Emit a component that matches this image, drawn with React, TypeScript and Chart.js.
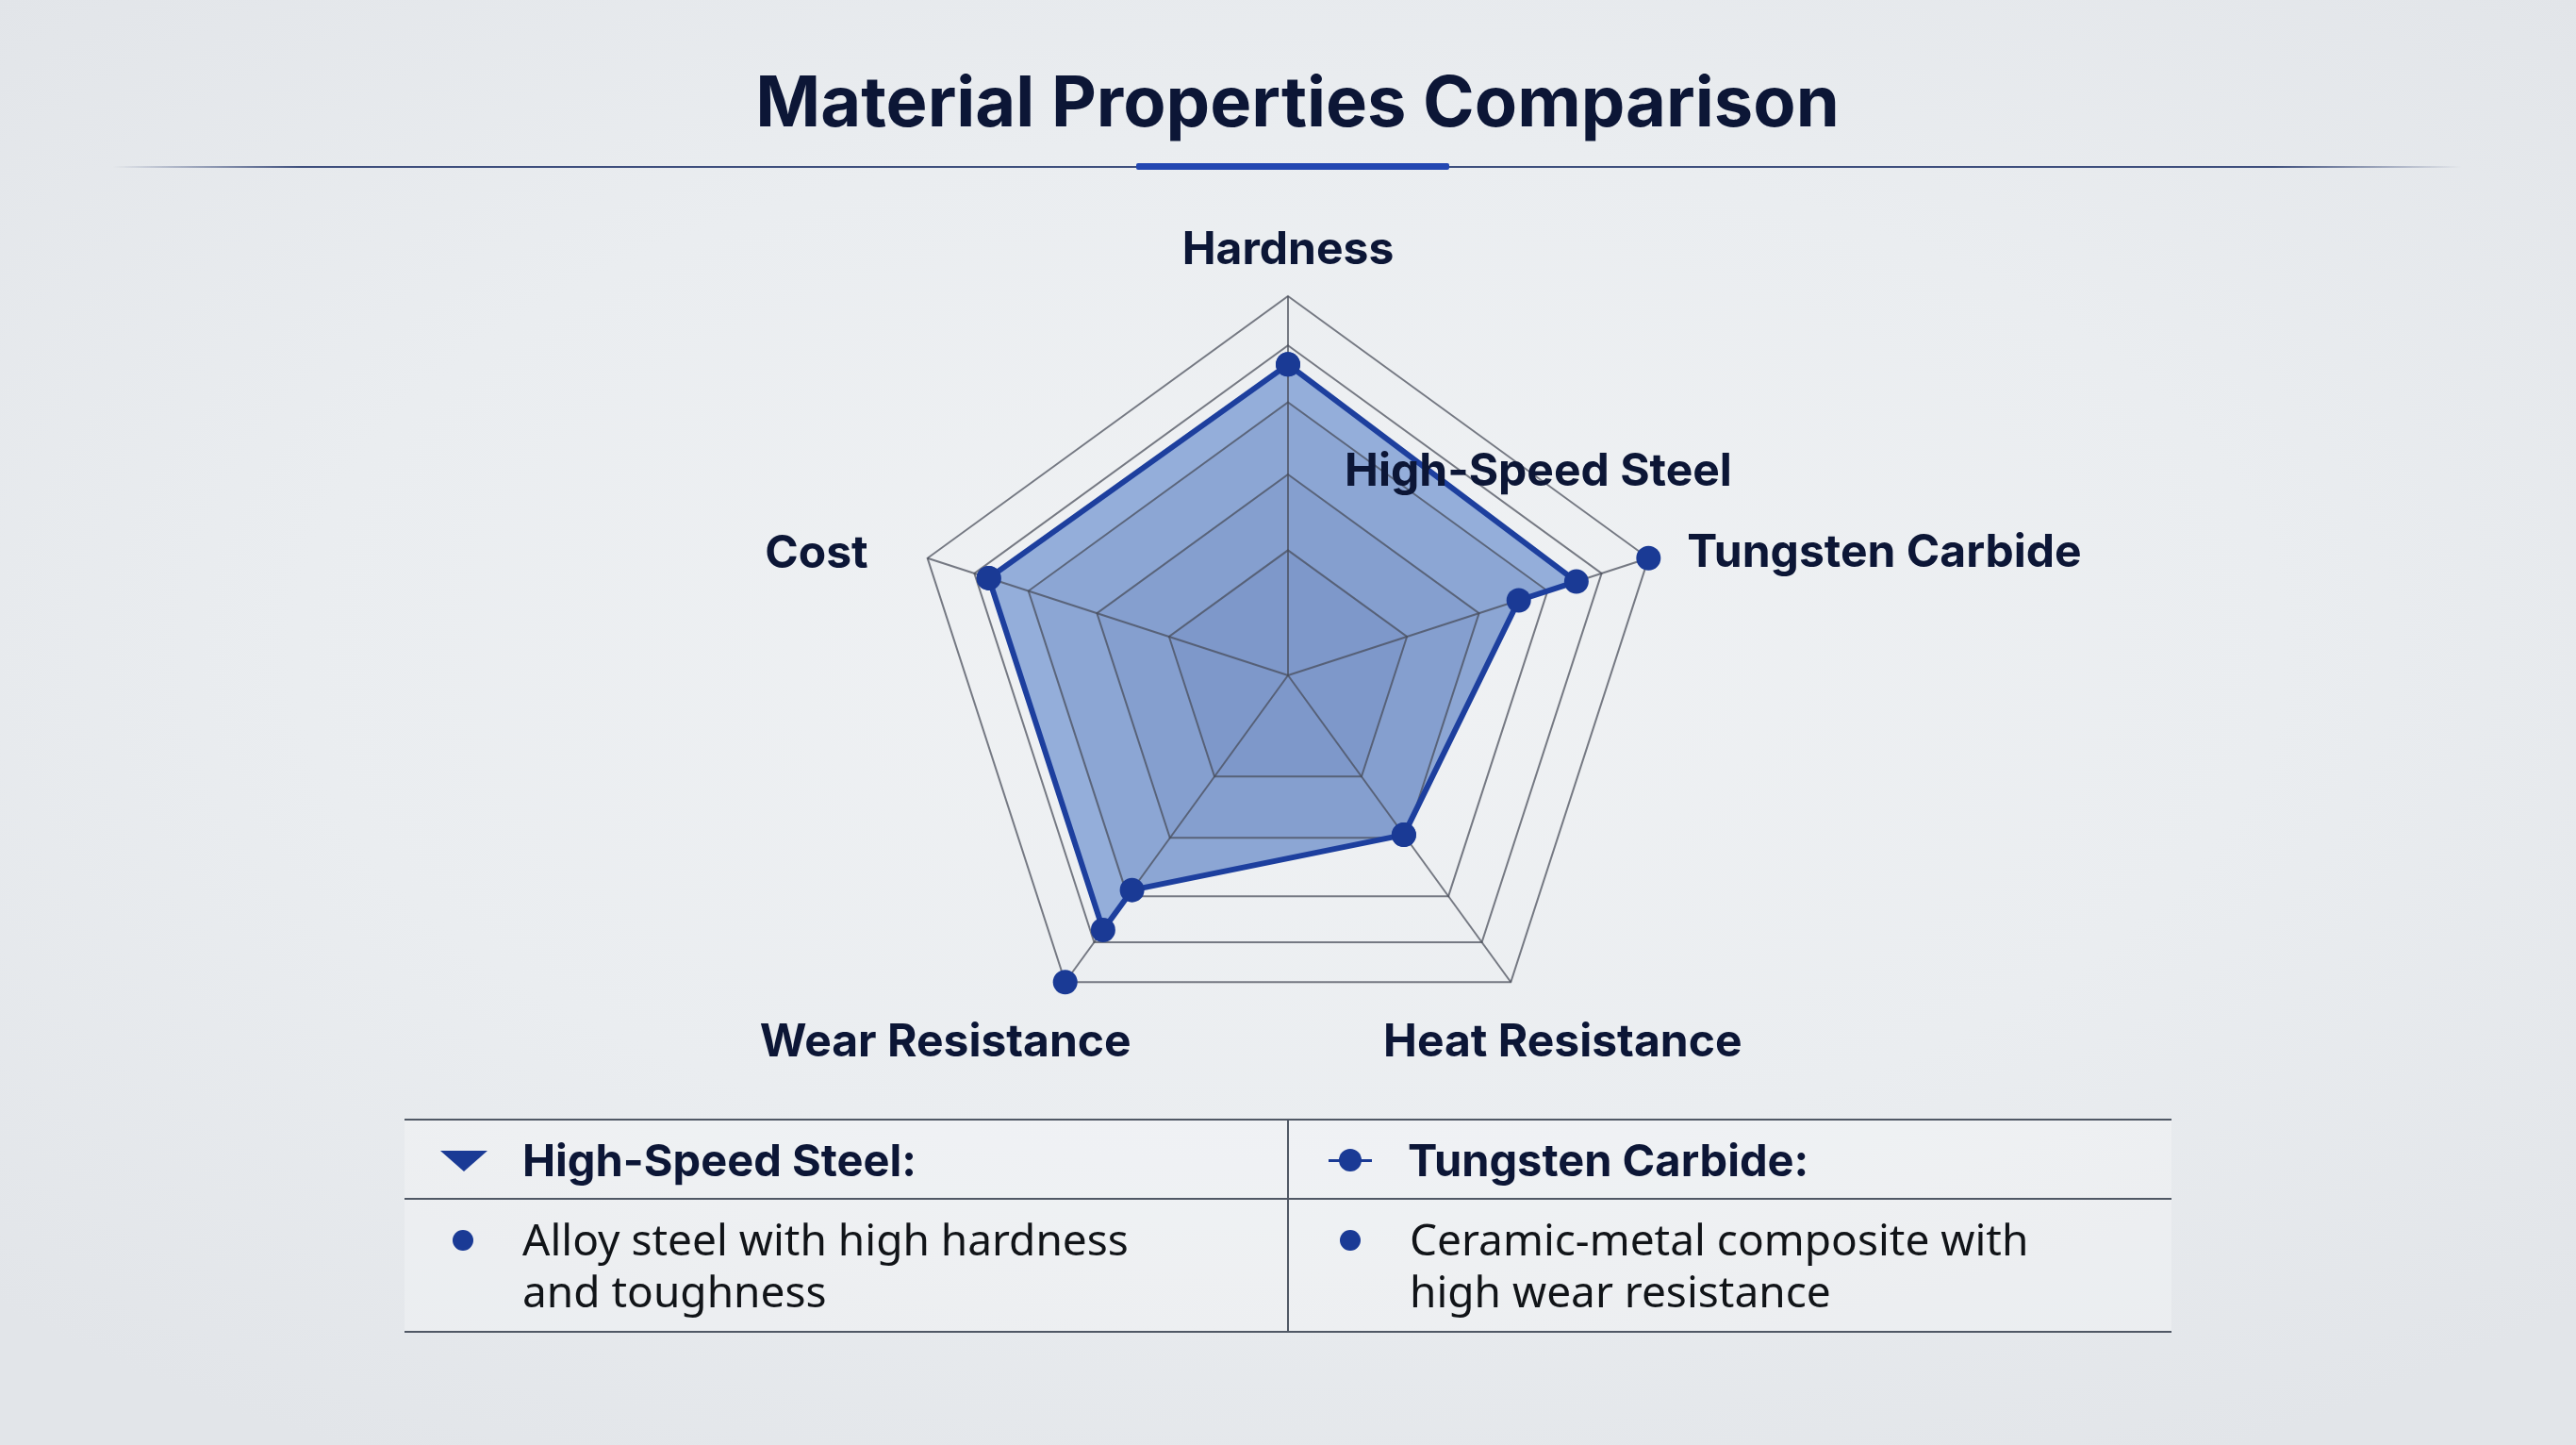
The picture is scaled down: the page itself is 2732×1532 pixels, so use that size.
import React, { useEffect, useRef } from 'react';
import { Chart, registerables } from 'chart.js';

Chart.register(...registerables);

// ---------- data ----------
const TITLE = 'Material Properties Comparison';
const AXES = ['Hardness', 'Tungsten Carbide', 'Heat Resistance', 'Wear Resistance', 'Cost'];
const HSS_VALUES = [82, 80, 52, 70, 83];
const TC_VALUES = [82, 64, 52, 83, 83];
const PEAK_VALUES: (number | null)[] = [null, 100, null, 100, null];
const GRID_TICKS = [0, 33, 53, 72, 87, 100];
const SERIES_NAMES = ['High-Speed Steel', 'Tungsten Carbide'];
const HSS_NOTE = ['Alloy steel with high hardness', 'and toughness'];
const TC_NOTE = ['Ceramic-metal composite with', 'high wear resistance'];

// ---------- styles ----------
const W = 2732;
const H = 1532;
const NAVY = '#0c1636';
const MARK = '#1a3a95';
const EDGE = '#1d3f9e';
const FILL_BASE = 'rgb(156,182,224)';
const FILL_LAYER = 'rgba(40,70,140,0.07)';
const GRID = 'rgba(70,75,88,0.72)';
const LABEL_FONT = '700 48px Inter';
// label placement relative to the axis end (value 100): [align, dx, dy(baseline)]
const LABEL_LAYOUT: [CanvasTextAlign, number, number][] = [
  ['center', 0, -34],
  ['left', 41, 9],
  ['center', 55, 79],
  ['center', -127, 79],
  ['right', -63, 10],
];
const SERIES_TAG_LAYOUT: [CanvasTextAlign, number, number] = ['right', 165, -102];

function outlinePoints(r: any) {
  const pts: { x: number; y: number }[] = [];
  AXES.forEach((_, i) => {
    pts.push(r.getPointPositionForValue(i, HSS_VALUES[i]));
    if (TC_VALUES[i] !== HSS_VALUES[i]) pts.push(r.getPointPositionForValue(i, TC_VALUES[i]));
  });
  return pts;
}

function trace(ctx: CanvasRenderingContext2D, pts: { x: number; y: number }[]) {
  ctx.beginPath();
  pts.forEach((p, i) => (i === 0 ? ctx.moveTo(p.x, p.y) : ctx.lineTo(p.x, p.y)));
  ctx.closePath();
}

const areaPlugin = {
  id: 'combinedArea',
  beforeDraw(chart: any) {
    const r = chart.scales.r;
    const ctx: CanvasRenderingContext2D = chart.ctx;
    const pts = outlinePoints(r);
    ctx.save();
    trace(ctx, pts);
    ctx.fillStyle = FILL_BASE;
    ctx.fill();
    ctx.clip();
    for (let k = GRID_TICKS.length - 2; k >= 1; k--) {
      const v = GRID_TICKS[k];
      ctx.beginPath();
      AXES.forEach((_, i) => {
        const p = r.getPointPositionForValue(i, v);
        if (i === 0) ctx.moveTo(p.x, p.y);
        else ctx.lineTo(p.x, p.y);
      });
      ctx.closePath();
      ctx.fillStyle = FILL_LAYER;
      ctx.fill();
    }
    ctx.restore();
  },
  beforeDatasetsDraw(chart: any) {
    const r = chart.scales.r;
    const ctx: CanvasRenderingContext2D = chart.ctx;
    ctx.save();
    trace(ctx, outlinePoints(r));
    ctx.strokeStyle = EDGE;
    ctx.lineWidth = 6;
    ctx.lineJoin = 'round';
    ctx.stroke();
    ctx.restore();
  },
  afterDraw(chart: any) {
    const r = chart.scales.r;
    const ctx: CanvasRenderingContext2D = chart.ctx;
    ctx.save();
    ctx.font = LABEL_FONT;
    ctx.fillStyle = NAVY;
    ctx.textBaseline = 'alphabetic';
    AXES.forEach((label, i) => {
      const p = r.getPointPositionForValue(i, 100);
      const [align, dx, dy] = LABEL_LAYOUT[i];
      ctx.textAlign = align;
      ctx.fillText(label, p.x + dx, p.y + dy);
    });
    const q = r.getPointPositionForValue(1, HSS_VALUES[1]);
    ctx.textAlign = SERIES_TAG_LAYOUT[0];
    ctx.fillText(SERIES_NAMES[0], q.x + SERIES_TAG_LAYOUT[1], q.y + SERIES_TAG_LAYOUT[2]);
    ctx.restore();
  },
};

function RadarCanvas() {
  const ref = useRef<HTMLCanvasElement | null>(null);
  useEffect(() => {
    if (!ref.current) return;
    const pointStyle = {
      showLine: false,
      fill: false,
      borderWidth: 0,
      backgroundColor: 'transparent',
      pointRadius: 13,
      pointHoverRadius: 13,
      pointBackgroundColor: MARK,
      pointBorderColor: MARK,
      pointBorderWidth: 0,
    };
    const chart = new Chart(ref.current, {
      type: 'radar',
      data: {
        labels: AXES,
        datasets: [
          { label: SERIES_NAMES[0], data: HSS_VALUES, ...pointStyle },
          { label: SERIES_NAMES[1], data: TC_VALUES, ...pointStyle },
          { label: 'Scale maximum', data: PEAK_VALUES as any, ...pointStyle },
        ],
      },
      options: {
        responsive: false,
        animation: false,
        devicePixelRatio: 1,
        layout: { padding: { left: 964, right: 964, top: 314, bottom: 414 } },
        plugins: { legend: { display: false }, tooltip: { enabled: false } },
        events: [],
        scales: {
          r: {
            min: 0,
            max: 100,
            afterBuildTicks: (scale: any) => {
              scale.ticks = GRID_TICKS.map((v) => ({ value: v }));
            },
            ticks: { display: false },
            pointLabels: { display: false },
            grid: { color: GRID, lineWidth: 2 },
            angleLines: { color: GRID, lineWidth: 2 },
          },
        },
      } as any,
      plugins: [areaPlugin],
    });
    return () => chart.destroy();
  }, []);
  return (
    <canvas
      ref={ref}
      width={W}
      height={H}
      style={{ position: 'absolute', left: 0, top: 0, width: W, height: H, display: 'block' }}
    />
  );
}

const abs = (s: React.CSSProperties): React.CSSProperties => ({ position: 'absolute', ...s });

export default function App() {
  const headFont: React.CSSProperties = {
    fontFamily: 'Inter, sans-serif',
    fontWeight: 700,
    fontSize: 47,
    lineHeight: '60px',
    color: NAVY,
    whiteSpace: 'nowrap',
  };
  const bodyFont: React.CSSProperties = {
    fontFamily: '"Noto Sans", sans-serif',
    fontWeight: 400,
    fontSize: 46,
    lineHeight: '55px',
    color: '#111418',
    whiteSpace: 'nowrap',
  };
  return (
    <div
      style={{
        position: 'relative',
        width: W,
        height: H,
        overflow: 'hidden',
        background:
          'radial-gradient(ellipse 70% 65% at 50% 45%, #f0f2f4 0%, #eaedf0 55%, #e2e5e9 100%)',
      }}
    >
      <style>{'body{margin:0;}'}</style>
      <RadarCanvas />
      {/* title */}
      <div
        style={abs({
          left: 376,
          top: 62,
          width: 2000,
          textAlign: 'center',
          fontFamily: 'Inter, sans-serif',
          fontWeight: 700,
          fontSize: 74,
          lineHeight: '90px',
          color: NAVY,
          whiteSpace: 'nowrap',
        })}
      >
        {TITLE}
      </div>
      <div
        style={abs({
          left: 120,
          top: 176,
          width: 2490,
          height: 2,
          background:
            'linear-gradient(to right, rgba(44,62,112,0), rgba(44,62,112,0.9) 8%, rgba(44,62,112,0.9) 92%, rgba(44,62,112,0))',
        })}
      />
      <div style={abs({ left: 1205, top: 173, width: 332, height: 7, background: '#2347b2', borderRadius: 2 })} />

      {/* table */}
      <div style={abs({ left: 429, top: 1186, width: 1874, height: 227, background: 'rgba(255,255,255,0.25)' })}>
        <div style={abs({ left: 0, top: 0, width: 1874, height: 2, background: '#505865' })} />
        <div style={abs({ left: 0, top: 84, width: 1874, height: 2, background: '#505865' })} />
        <div style={abs({ left: 0, top: 225, width: 1874, height: 2, background: '#505865' })} />
        <div style={abs({ left: 936, top: 0, width: 2, height: 227, background: '#505865' })} />

        {/* left header */}
        <div
          style={abs({
            left: 38,
            top: 34,
            width: 0,
            height: 0,
            borderLeft: '25px solid transparent',
            borderRight: '25px solid transparent',
            borderTop: `22px solid ${MARK}`,
          })}
        />
        <div style={abs({ left: 125, top: 14, ...headFont })}>{SERIES_NAMES[0]}:</div>
        {/* right header */}
        <div style={abs({ left: 980, top: 43, width: 46, height: 3, background: MARK })} />
        <div style={abs({ left: 991, top: 32, width: 24, height: 24, borderRadius: 12, background: MARK })} />
        <div style={abs({ left: 1064, top: 14, ...headFont })}>{SERIES_NAMES[1]}:</div>

        {/* bodies */}
        <div style={abs({ left: 51, top: 118, width: 22, height: 22, borderRadius: 11, background: MARK })} />
        <div style={abs({ left: 125, top: 100, ...bodyFont })}>
          {HSS_NOTE.map((t) => (
            <div key={t}>{t}</div>
          ))}
        </div>
        <div style={abs({ left: 992, top: 118, width: 22, height: 22, borderRadius: 11, background: MARK })} />
        <div style={abs({ left: 1066, top: 100, ...bodyFont })}>
          {TC_NOTE.map((t) => (
            <div key={t}>{t}</div>
          ))}
        </div>
      </div>
    </div>
  );
}
